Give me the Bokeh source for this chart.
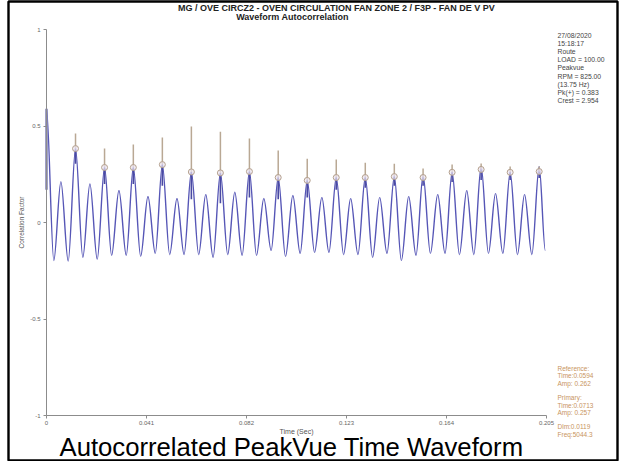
from bokeh.plotting import figure
from bokeh.models import Range1d, FixedTicker, Label, LinearAxis
from bokeh.embed import file_html
from bokeh.resources import INLINE

# ---------------- data ----------------
# extrema of the autocorrelation curve (lag in seconds, correlation factor)
lag_t = [0.0, 0.0030, 0.0059, 0.0089, 0.0119, 0.0149, 0.0178, 0.0208, 0.0238, 0.0267,
         0.0297, 0.0327, 0.0356, 0.0386, 0.0416, 0.0446, 0.0475, 0.0505, 0.0535, 0.0564,
         0.0594, 0.0624, 0.0653, 0.0683, 0.0713, 0.0743, 0.0772, 0.0802, 0.0832, 0.0861,
         0.0891, 0.0921, 0.0950, 0.0980, 0.1010, 0.1040, 0.1069, 0.1099, 0.1129, 0.1158,
         0.1188, 0.1218, 0.1247, 0.1277, 0.1307, 0.1337, 0.1366, 0.1396, 0.1426, 0.1455,
         0.1485, 0.1515, 0.1544, 0.1574, 0.1604, 0.1634, 0.1663, 0.1693, 0.1723, 0.1752,
         0.1782, 0.1812, 0.1841, 0.1871, 0.1901, 0.1931, 0.1960, 0.1990, 0.2020, 0.2045]
corr = [0.59, -0.197, 0.212, -0.20, 0.383, -0.18, 0.20, -0.19, 0.285, -0.17,
        0.166, -0.17, 0.285, -0.175, 0.135, -0.16, 0.30, -0.166, 0.124, -0.166,
        0.262, -0.166, 0.145, -0.18, 0.257, -0.166, 0.157, -0.17, 0.264, -0.17,
        0.124, -0.145, 0.233, -0.176, 0.14, -0.16, 0.218, -0.155, 0.13, -0.155,
        0.233, -0.166, 0.124, -0.166, 0.233, -0.18, 0.13, -0.16, 0.238, -0.197,
        0.135, -0.17, 0.245, -0.16, 0.145, -0.16, 0.26, -0.166, 0.166, -0.166,
        0.29, -0.16, 0.15, -0.16, 0.26, -0.166, 0.145, -0.166, 0.29, -0.145]

# marked peaks (multiples of the 0.0119 s period)
peak_t = [0.0119, 0.0238, 0.0356, 0.0475, 0.0594, 0.0713, 0.0832, 0.0950, 0.1069,
          0.1188, 0.1307, 0.1426, 0.1544, 0.1663, 0.1782, 0.1901, 0.2020]
peak_amp = [0.383, 0.285, 0.285, 0.30, 0.262, 0.257, 0.264, 0.233, 0.218,
            0.233, 0.233, 0.238, 0.233, 0.26, 0.275, 0.26, 0.264]
peak_hi = [0.461, 0.383, 0.404, 0.44, 0.497, 0.47, 0.435, 0.373, 0.33,
           0.326, 0.31, 0.305, 0.28, 0.30, 0.306, 0.29, 0.29]
peak_lo = [0.305, 0.20, 0.20, 0.19, 0.12, 0.10, 0.13, 0.12, 0.13,
           0.17, 0.18, 0.19, 0.19, 0.21, 0.22, 0.22, 0.23]

x_ticks = [0, 0.041, 0.082, 0.123, 0.164, 0.205]
x_tick_labels = ["0", "0.041", "0.082", "0.123", "0.164", "0.205"]
y_ticks = [-1, -0.5, 0, 0.5, 1]
y_tick_labels = ["-1", "-0.5", "0", "0.5", "1"]

title_1 = "MG / OVE CIRCZ2 - OVEN CIRCULATION FAN ZONE 2 / F3P - FAN DE V PV"
title_2 = "Waveform Autocorrelation"
info_lines = ["27/08/2020", "15:18:17", "Route", "LOAD = 100.00", "Peakvue",
              "RPM = 825.00", "(13.75 Hz)", "Pk(+) = 0.383", "Crest = 2.954"]
cursor_lines = ["Reference:", "Time:0.0594", "Amp: 0.262", "",
                "Primary:", "Time:0.0713", "Amp: 0.257", "",
                "Dlm:0.0119", "Freq:5044.3"]
caption = "Autocorrelated PeakVue Time Waveform"

FONT = "Liberation Sans"

# ---------------- geometry (page pixels) ----------------
W, H = 623, 461
FL, FR, FT, FB = 8, 617, 1, 460   # plot frame = black page border
AX_L, AX_R = 46, 546              # page x of lag 0 and 0.205 s
AX_T, AX_B = 29, 415              # page y of +1 and -1
kx = (AX_R - AX_L) / 0.205
ky = (AX_B - AX_T) / 2.0
x_lo = 0 - (AX_L - FL) / kx
x_hi = 0.205 + (FR - AX_R) / kx
y_hi = 1 + (AX_T - FT) / ky
y_lo = -1 - (FB - AX_B) / ky

p = figure(width=W, height=H, output_backend="svg", toolbar_location=None,
           x_range=Range1d(x_lo, x_hi), y_range=Range1d(y_lo, y_hi),
           x_axis_location=None, y_axis_location=None,
           min_border_left=FL, min_border_right=W - FR,
           min_border_top=FT, min_border_bottom=H - FB)
p.background_fill_color = "white"
p.border_fill_color = "white"
p.outline_line_color = "black"
p.outline_line_width = 2.4
p.xgrid.visible = False
p.ygrid.visible = False

xaxis = LinearAxis(fixed_location=-1, bounds=(0, 0.205), axis_label="Time (Sec)")
yaxis = LinearAxis(fixed_location=0, bounds=(-1, 1), axis_label="Correlation Factor")
p.add_layout(xaxis, "below")
p.add_layout(yaxis, "left")

for ax, ticks, labels in ((xaxis, x_ticks, x_tick_labels), (yaxis, y_ticks, y_tick_labels)):
    ax.ticker = FixedTicker(ticks=ticks)
    ax.major_label_overrides = dict(zip(ticks, labels))
    ax.axis_line_color = "#8c8c8c"
    ax.major_tick_line_color = "#8c8c8c"
    ax.minor_tick_line_color = None
    ax.major_tick_out = 3
    ax.major_tick_in = 0
    ax.major_label_text_font = FONT
    ax.major_label_text_font_size = "6px"
    ax.major_label_text_color = "#666666"
    ax.axis_label_text_font = FONT
    ax.axis_label_text_font_style = "normal"
    ax.axis_label_text_color = "#555555"

yaxis.major_label_standoff = 3
yaxis.axis_label_standoff = 2
yaxis.axis_label_text_font_size = "6.5px"
xaxis.major_label_standoff = 2
xaxis.axis_label_standoff = 0
xaxis.axis_label_text_font_size = "7px"

# curve: smooth cubic segments between consecutive extrema (horizontal tangents)
x0 = lag_t[:-1]
x1 = lag_t[1:]
y0 = corr[:-1]
y1 = corr[1:]
cx0 = [a + (b - a) / 3 for a, b in zip(x0, x1)]
cx1 = [b - (b - a) / 3 for a, b in zip(x0, x1)]
p.bezier(x0=x0, y0=y0, x1=x1, y1=y1, cx0=cx0, cy0=y0, cx1=cx1, cy1=y1,
         line_color="#5656b6", line_width=1.4)

# peak bands
p.segment(x0=peak_t, y0=peak_amp, x1=peak_t, y1=peak_hi, line_color="#b9a894", line_width=1.5)
p.segment(x0=peak_t, y0=peak_lo, x1=peak_t, y1=peak_amp, line_color="#4a4aa2", line_width=1.6)
p.segment(x0=[lag_t[0]], y0=[0.17], x1=[lag_t[0]], y1=[corr[0]], line_color="#8080b4", line_width=2.5)
p.scatter(peak_t, peak_amp, marker="circle", size=6, line_color="#b4a08c",
          fill_color="#ece6f2", fill_alpha=0.7, line_width=1)

# texts (screen offsets from the frame's left and bottom edges)
def txt(px, py, s, size, color="#333333", align="left", style="normal"):
    p.add_layout(Label(x=px - FL, y=FB - py, x_units="screen", y_units="screen", text=s,
                       text_font=FONT, text_font_size=size, text_color=color,
                       text_align=align, text_baseline="middle", text_font_style=style))

txt(336, 7, title_1, "9px", "#222222", "center", "bold")
txt(292, 16, title_2, "9px", "#222222", "center", "bold")
for i, s in enumerate(info_lines):
    txt(557, 35 + 8.1 * i, s, "6.8px", "#444444")
for i, s in enumerate(cursor_lines):
    if s:
        txt(557, 368 + 7.3 * i, s, "6.5px", "#c8945e")
txt(291, 446, caption, "25.7px", "#000000", "center")

open("out.html", "w").write(file_html(p, INLINE))
